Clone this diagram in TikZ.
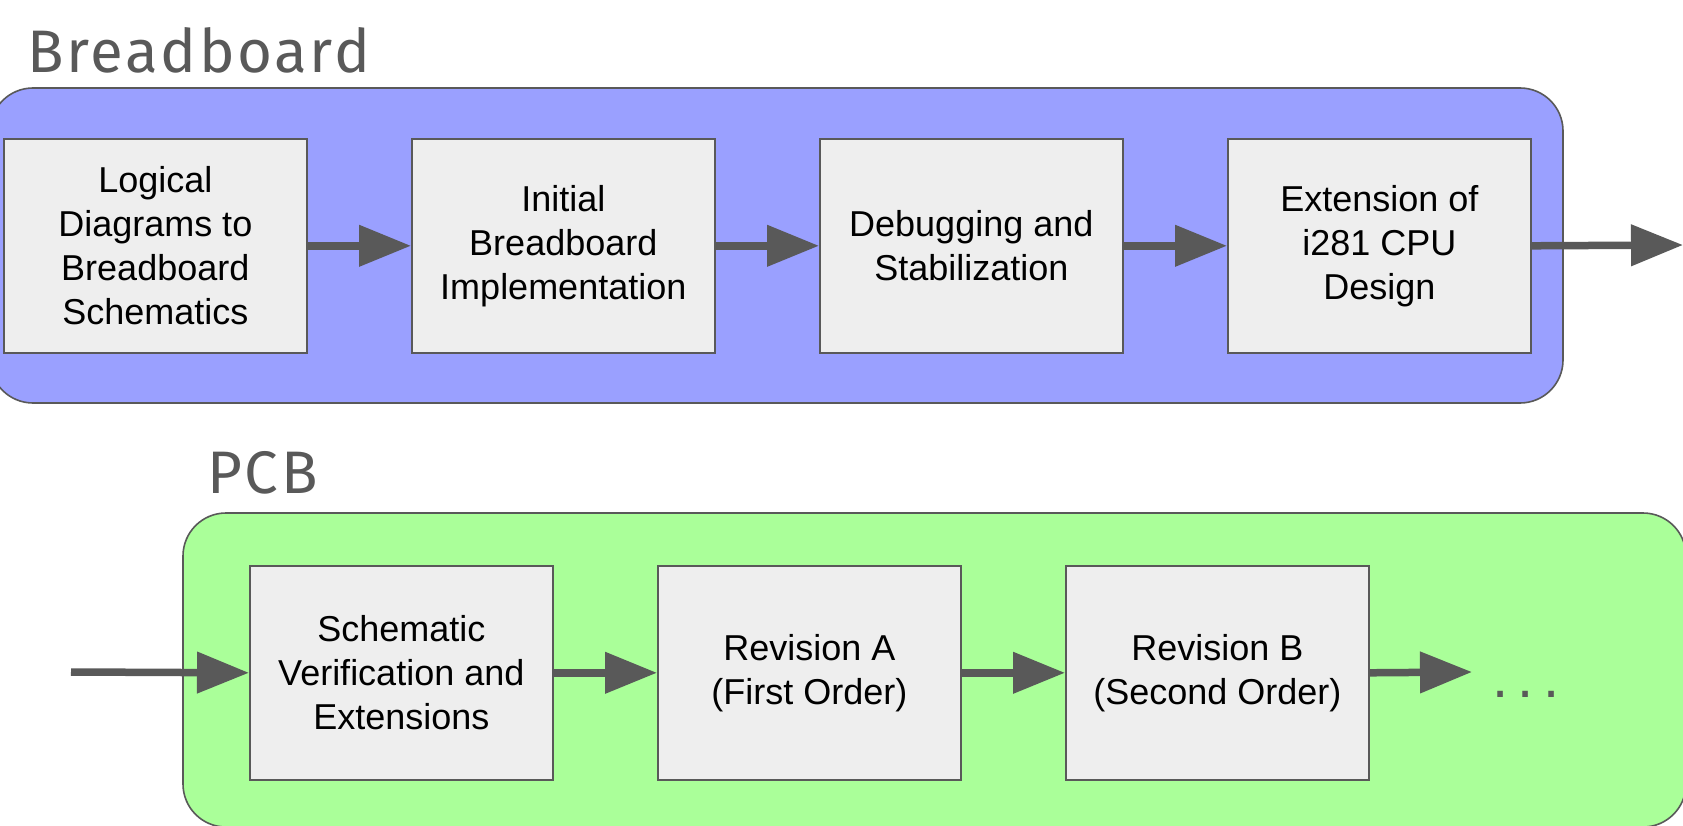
\documentclass[tikz,border=0pt]{standalone}
\usepackage{fontspec}
\setmainfont{Liberation Sans}
\newfontfamily\titlefont[LetterSpace=4.5]{Fira Sans}
\usetikzlibrary{arrows.meta}
\definecolor{bluebg}{HTML}{9AA0FF}
\definecolor{greenbg}{HTML}{AAFF99}
\definecolor{boxfill}{HTML}{EEEEEE}
\definecolor{edgegray}{HTML}{595959}
\definecolor{titlegray}{HTML}{595959}
\tikzset{
  stepbox/.style={draw=edgegray, line width=1.6pt, fill=boxfill, minimum width=303pt, minimum height=214pt,
    inner sep=0pt, align=center, font=\fontsize{36}{44}\selectfont, text=black, anchor=north west},
  flow/.style={draw=edgegray, line width=7.5pt, -{Triangle[length=52pt,width=40pt]}},
  groupbox/.style={draw=edgegray, line width=1.6pt, rounded corners=43pt},
  titletext/.style={font=\titlefont\fontsize{60}{70}\selectfont, text=titlegray, anchor=base west, inner sep=0pt}
}
\begin{document}
\begin{tikzpicture}[x=1pt,y=-1pt]
\useasboundingbox (0,0) rectangle (1683,826);
\clip (0,0) rectangle (1683,826);
\fill[white] (0,0) rectangle (1683,826);
% group backgrounds
\draw[groupbox, fill=bluebg] (-10,88) rectangle (1563,403);
\draw[groupbox, fill=greenbg] (183,513) rectangle (1686,827);
% titles
\node[titletext] (t1) at (27,73) {Breadboard};
\node[titletext] (t2) at (207,493) {PCB};
% top row
\node[stepbox] (a) at (3,138) {Logical\\Diagrams to\\Breadboard\\Schematics};
\node[stepbox] (b) at (411,138) {Initial\\Breadboard\\Implementation};
\node[stepbox] (c) at (819,138) {Debugging and\\Stabilization};
\node[stepbox] (d) at (1227,138) {Extension of\\i281 CPU\\Design};
\coordinate (dout) at (1683,245);
% bottom row
\node[stepbox] (e) at (249,565) {Schematic\\Verification and\\Extensions};
\node[stepbox] (f) at (657,565) {Revision A\\(First Order)};
\node[stepbox] (g) at (1065,565) {Revision B\\(Second Order)};
\coordinate (ein) at (71,672);
\coordinate (gout) at (1472,672);
\node[font=\fontsize{58}{66}\selectfont, text=edgegray, anchor=base, inner sep=0pt] (dots) at (1526,697) {.\hspace{9pt}.\hspace{9pt}.};
% connectors
\draw[flow] (a.east) -- (b.west);
\draw[flow] (b.east) -- (c.west);
\draw[flow] (c.east) -- (d.west);
\draw[flow] (d.east) -- (dout);
\draw[flow] (ein) -- (e.west);
\draw[flow] (e.east) -- (f.west);
\draw[flow] (f.east) -- (g.west);
\draw[flow] (g.east) -- (gout);
\end{tikzpicture}
\end{document}
